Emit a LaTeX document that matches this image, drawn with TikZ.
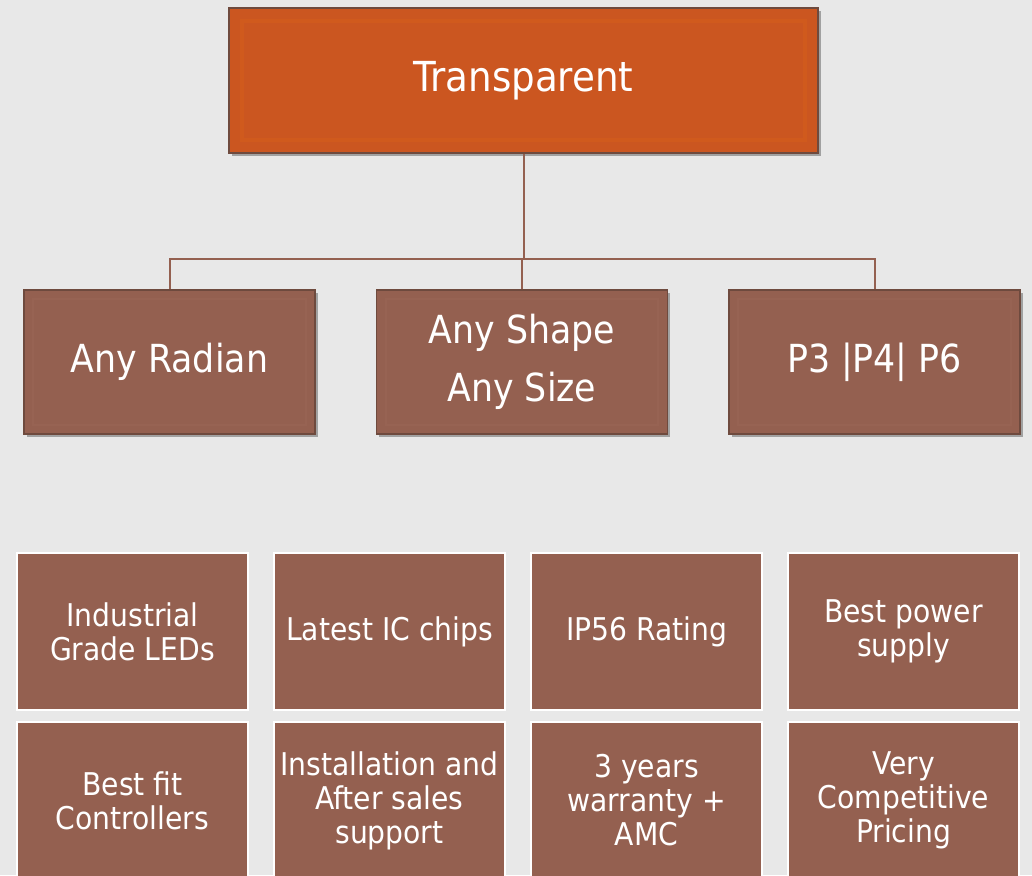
\documentclass[tikz,border=0pt]{standalone}
\usepackage{fontspec}
\setmainfont{DejaVu Sans Condensed}
\usetikzlibrary{shadows}
\definecolor{bgcol}{HTML}{E8E8E8}
\definecolor{rustcol}{HTML}{CB5620}
\definecolor{rustglow}{HTML}{D05A1D}
\definecolor{rustline}{HTML}{6E4A3E}
\definecolor{claycol}{HTML}{946050}
\definecolor{clayglow}{HTML}{976353}
\definecolor{clayline}{HTML}{6E4A3E}
\begin{document}
\begin{tikzpicture}[x=0.75pt,y=0.75pt,yscale=-1,xscale=1,
  headbox/.style={draw=rustline, fill=rustcol, line width=0.8pt, minimum width=441.75pt, minimum height=108.75pt, text=white, font=\fontsize{31}{37}\selectfont,
    drop shadow={shadow xshift=2pt, shadow yshift=-2.5pt, fill=black, opacity=0.3},
    path picture={\draw[rustglow, line width=3pt] ([shift={(10pt,10pt)}]path picture bounding box.south west) rectangle ([shift={(-10pt,-10pt)}]path picture bounding box.north east);}},
  subbox/.style={draw=clayline, fill=claycol, line width=0.8pt, minimum width=218.25pt, minimum height=108pt, text=white, align=center, font=\fontsize{29}{43.5}\selectfont,
    drop shadow={shadow xshift=2pt, shadow yshift=-2.5pt, fill=black, opacity=0.3},
    path picture={\draw[clayglow, line width=1.5pt] ([shift={(7pt,7pt)}]path picture bounding box.south west) rectangle ([shift={(-7pt,-7pt)}]path picture bounding box.north east);}},
  tile/.style={draw=white, fill=claycol, line width=1.6pt, minimum width=173.25pt, minimum height=117.75pt, text=white, align=center, font=\fontsize{23.5}{25.5}\selectfont},
  link/.style={draw=claycol, line width=1.5pt}]

\useasboundingbox (0,0) rectangle (1032,875);
\fill[bgcol] (0,0) rectangle (1032,875);

% head
\node[headbox] (head) at (523.5, 80.5) {Transparent};

% second level
\node[subbox] (radian) at (169.5, 362) {Any Radian};
\node[subbox] (shape) at (522, 362) {Any Shape\\Any Size};
\node[subbox] (pitch) at (874.5, 362) {P3 |P4| P6};

\coordinate (hub) at (523.5, 259);
\draw[link] (head) -- (hub);
\draw[link] (hub) -| (radian);
\draw[link] (hub) -| (shape);
\draw[link] (hub) -| (pitch);

% feature tiles, first row
\node[tile] (leds) at (132.5, 631.5) {Industrial\\Grade LEDs};
\node[tile] (chips) at (389.5, 631.5) {Latest IC chips};
\node[tile] (rating) at (646.5, 631.5) {IP56 Rating};
\node[tile] (power) at (903.5, 631.5) {Best power\\supply};

% feature tiles, second row
\node[tile] (ctrl) at (132.5, 800.5) {Best fit\\Controllers};
\node[tile] (support) at (389.5, 800.5) {Installation and\\After sales\\support};
\node[tile] (warranty) at (646.5, 800.5) {3 years\\warranty +\\AMC};
\node[tile] (pricing) at (903.5, 800.5) {Very\\Competitive\\Pricing};

\end{tikzpicture}
\end{document}
